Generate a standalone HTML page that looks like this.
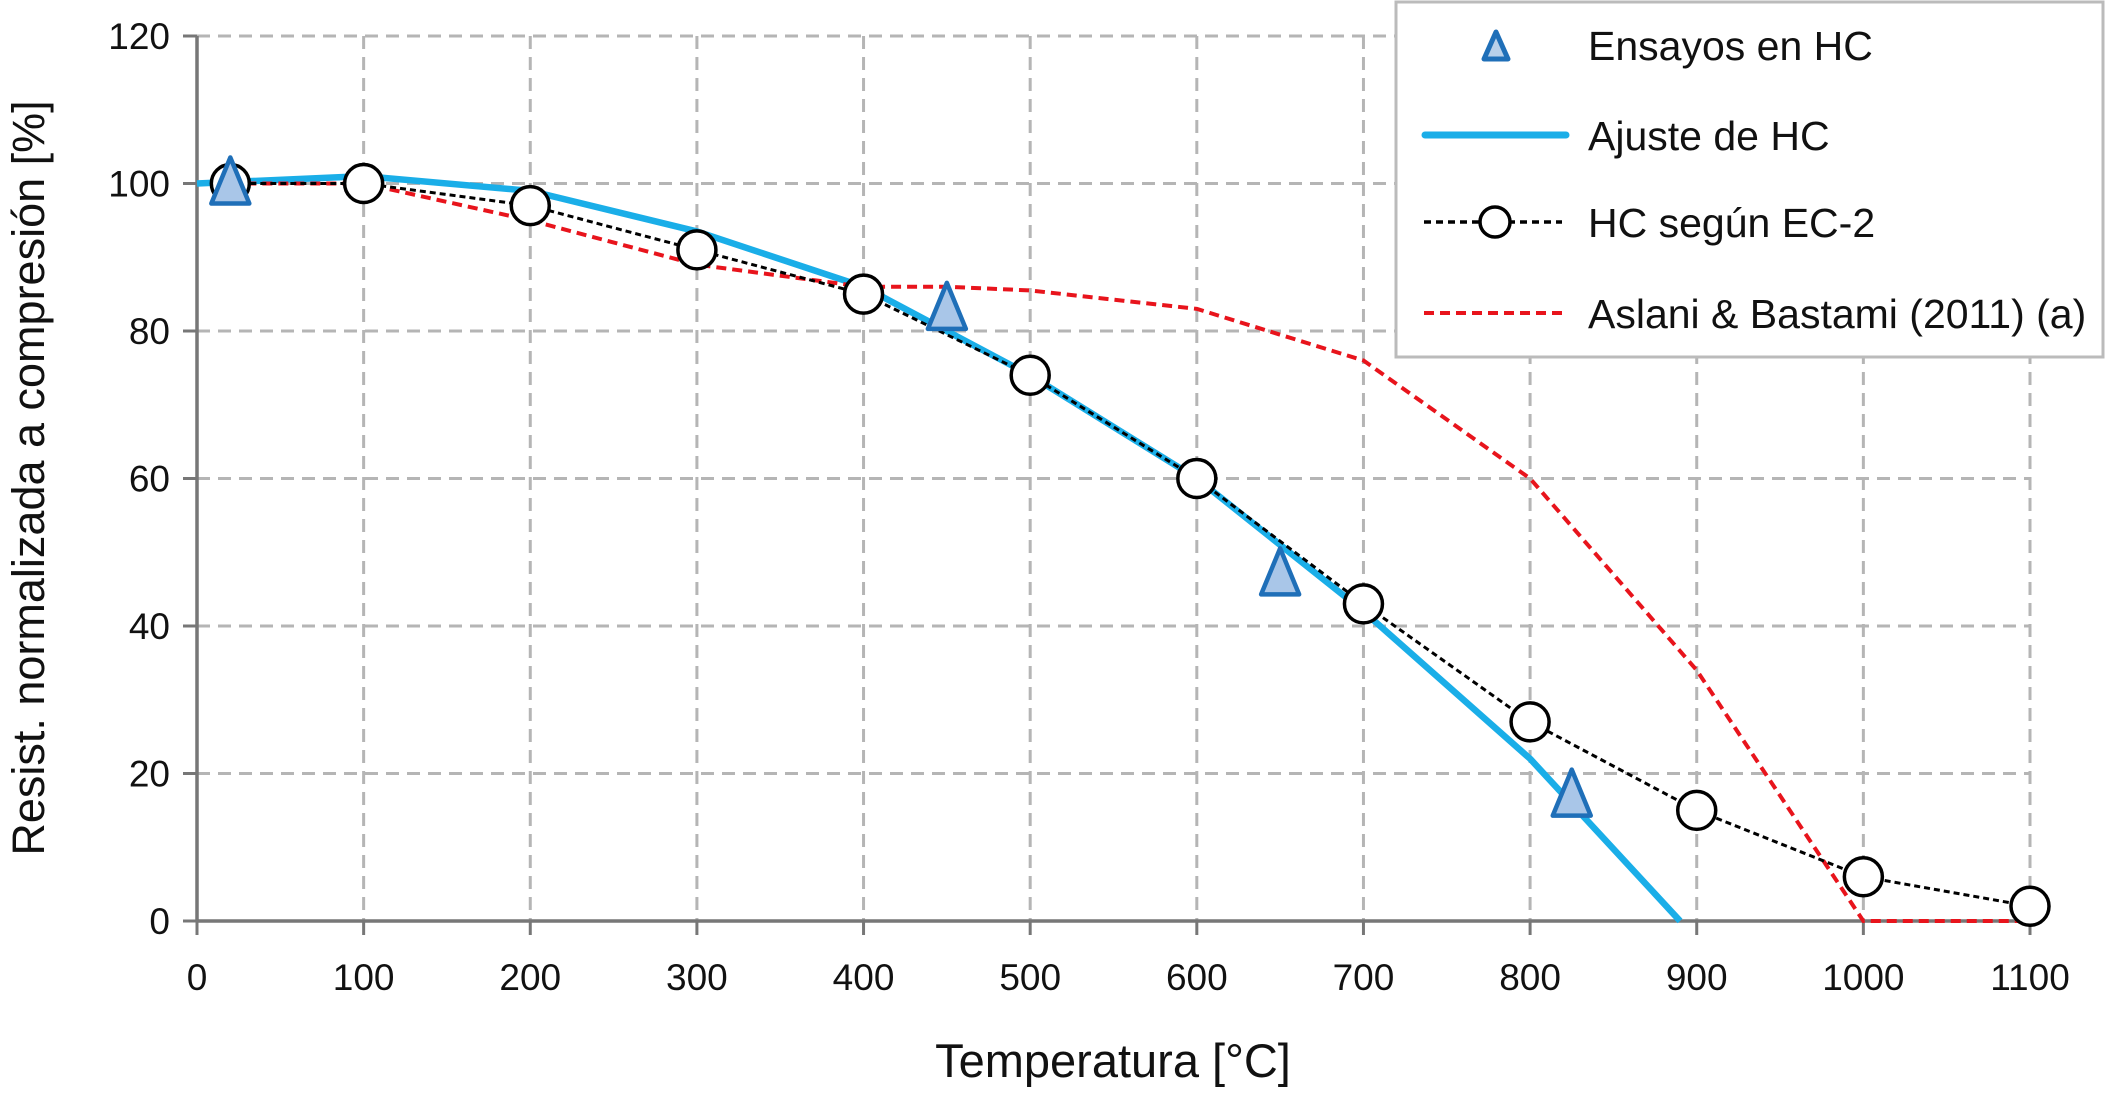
<!DOCTYPE html>
<html><head><meta charset="utf-8"><style>
body{margin:0;background:#fff;width:2105px;height:1100px;overflow:hidden}
svg text{font-family:"Liberation Sans",Arial,sans-serif;fill:#111}
</style></head><body>
<svg id="chart" width="2105" height="1100" xmlns="http://www.w3.org/2000/svg">
<g id="grid"></g>
<g id="axes"></g>
<g id="series"></g>
<text x="1113" y="1077" font-size="47" text-anchor="middle">Temperatura [°C]</text>
<text transform="translate(44,478) rotate(-90)" font-size="45" text-anchor="middle">Resist. normalizada a compresión [%]</text>
<g>
<rect x="1396" y="2" width="707" height="355" fill="#fff" stroke="#bbb" stroke-width="3"/>
<polygon points="1496,32 1484,59 1508,59" fill="#b8d0ea" stroke="#1f6fb8" stroke-width="5" stroke-linejoin="round"/>
<text x="1588" y="60" font-size="41">Ensayos en HC</text>
<line x1="1425" y1="135" x2="1566" y2="135" stroke="#1aaee8" stroke-width="7" stroke-linecap="round"/>
<text x="1588" y="150" font-size="41">Ajuste de HC</text>
<line x1="1424" y1="222" x2="1562" y2="222" stroke="#000" stroke-width="3.5" stroke-dasharray="7,5"/>
<circle cx="1495" cy="222" r="15" fill="#fff" stroke="#000" stroke-width="3.5"/>
<text x="1588" y="237" font-size="41">HC según EC-2</text>
<line x1="1424" y1="313" x2="1566" y2="313" stroke="#e8141c" stroke-width="4" stroke-dasharray="10,6"/>
<text x="1588" y="328" font-size="41">Aslani &amp; Bastami (2011) (a)</text>
</g>
</svg>
<script>
const xTicks=[0,100,200,300,400,500,600,700,800,900,1000,1100];
const yTicks=[0,20,40,60,80,100,120];
const ensayosX=[20,450,650,825];
const ensayosY=[100,83,47,17];
const ajusteX=[0,100,200,300,400,500,600,700,800,890];
const ajusteY=[100,101,99,93.5,86,74,60,42,22,0];
const ec2X=[20,100,200,300,400,500,600,700,800,900,1000,1100];
const ec2Y=[100,100,97,91,85,74,60,43,27,15,6,2];
const aslaniX=[20,100,200,300,400,450,500,600,700,800,900,1000,1100];
const aslaniY=[100,100,95,89,86,86,85.5,83,76,60,34,0,0];
const NS="http://www.w3.org/2000/svg";
const sx=v=>197+(v/1100)*(2030-197);
const sy=v=>921-(v/120)*(921-36);
function mk(tag,attrs,parent){const e=document.createElementNS(NS,tag);for(const k in attrs)e.setAttribute(k,attrs[k]);parent.appendChild(e);return e;}
const grid=document.getElementById('grid'),axes=document.getElementById('axes'),ser=document.getElementById('series');
xTicks.forEach(t=>{
 if(t>0){const g=mk('line',{x1:sx(t),y1:36,x2:sx(t),y2:921,stroke:'#b5b5b5','stroke-width':3,'stroke-dasharray':'13,8'},grid);
 
 }
 const tk=mk('line',{x1:sx(t),y1:921,x2:sx(t),y2:935,stroke:'#777','stroke-width':3},axes);
 
 
 const lb=mk('text',{x:sx(t),y:990,'font-size':37,'text-anchor':'middle'},axes);lb.textContent=t;
 
 
});
yTicks.forEach(t=>{
 if(t>0){const g=mk('line',{x1:197,y1:sy(t),x2:2030,y2:sy(t),stroke:'#b5b5b5','stroke-width':3,'stroke-dasharray':'13,8'},grid);
 
 }
 const tk=mk('line',{x1:183,y1:sy(t),x2:197,y2:sy(t),stroke:'#777','stroke-width':3},axes);
 
 
 const lb=mk('text',{x:170,y:sy(t)+13,'font-size':37,'text-anchor':'end'},axes);lb.textContent=t;
 
 
});
const xa=mk('line',{x1:197,y1:921,x2:2030,y2:921,stroke:'#777','stroke-width':3.5},axes);


const ya=mk('line',{x1:197,y1:36,x2:197,y2:921,stroke:'#777','stroke-width':3.5},axes);


const pts=(X,Y)=>X.map((x,i)=>sx(x)+','+sy(Y[i])).join(' ');
const la=mk('polyline',{points:pts(ajusteX,ajusteY),fill:'none',stroke:'#1aaee8','stroke-width':6.5,'stroke-linejoin':'round'},ser);


const lr=mk('polyline',{points:pts(aslaniX,aslaniY),fill:'none',stroke:'#e8141c','stroke-width':4,'stroke-dasharray':'10,6'},ser);


const le=mk('polyline',{points:pts(ec2X,ec2Y),fill:'none',stroke:'#000','stroke-width':3,'stroke-dasharray':'6,4'},ser);


ec2X.forEach((x,i)=>{const c=mk('circle',{cx:sx(x),cy:sy(ec2Y[i]),r:19,fill:'#fff',stroke:'#000','stroke-width':3.5},ser);
 
 });
ensayosX.forEach((x,i)=>{const cx=sx(x),cy=sy(ensayosY[i]);
 const p=mk('polygon',{points:`${cx},${cy-26} ${cx-19},${cy+20} ${cx+19},${cy+20}`,fill:'#a9c6e8',stroke:'#1f6fb8','stroke-width':4.5,'stroke-linejoin':'round'},ser);
 
 });
</script>
</body></html>
